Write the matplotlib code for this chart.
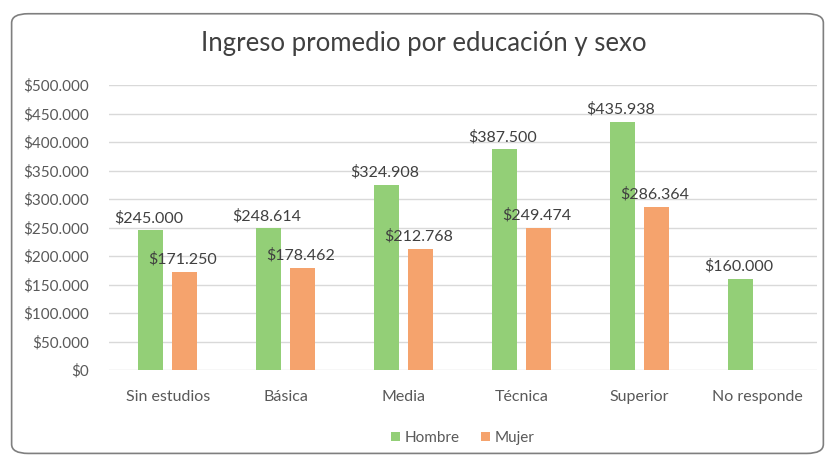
import numpy as np
import matplotlib.pyplot as plt
from matplotlib.patches import FancyBboxPatch
from matplotlib.ticker import FuncFormatter

plt.rcParams['font.family'] = ['Lato', 'DejaVu Sans']

categorias = ['Sin estudios', 'Básica', 'Media', 'Técnica', 'Superior', 'No responde']
hombre = [245000, 248614, 324908, 387500, 435938, 160000]
mujer = [171250, 178462, 212768, 249474, 286364, np.nan]

verde = '#93cf77'
naranja = '#f5a36d'
texto = '#404040'


def pesos(v, pos=None):
    # formato chileno: punto como separador de miles
    return '$' + format(int(v), ',').replace(',', '.')


fig = plt.figure(figsize=(8.3, 4.58), dpi=100)
fig.patch.set_facecolor('white')
borde = FancyBboxPatch((0.014, 0.01), 0.978, 0.96, boxstyle='round,pad=0,rounding_size=0.02',
                       transform=fig.transFigure, facecolor='none', edgecolor='#7f7f7f', linewidth=1.2)
fig.patches.append(borde)

ax = fig.add_axes([0.131, 0.192, 0.853, 0.622])
ax.patch.set_alpha(0)
x = np.arange(len(categorias))
ancho = 0.21
desp = 0.144
ax.bar(x - desp, hombre, ancho, color=verde, label='Hombre', zorder=3)
ax.bar(x + desp, mujer, ancho, color=naranja, label='Mujer', zorder=3)

for xi, v in zip(x, hombre):
    ax.text(xi - desp - 0.02, v + 9000, pesos(v), ha='center', va='bottom', fontsize=11.5, color=texto, zorder=4)
for xi, v in zip(x, mujer):
    if np.isnan(v):
        continue
    ax.text(xi + desp - 0.02, v + 10000, pesos(v), ha='center', va='bottom', fontsize=11.5, color=texto, zorder=4)

ax.set_ylim(0, 500000)
ax.set_xlim(-0.5, len(categorias) - 0.5)
ax.set_yticks(np.arange(0, 500001, 50000))
ax.yaxis.set_major_formatter(FuncFormatter(pesos))
ax.set_xticks(x)
ax.set_xticklabels(categorias)
ax.tick_params(axis='both', length=0, labelsize=11, colors='#595959')
ax.tick_params(axis='y', pad=14)
ax.tick_params(axis='x', pad=14, labelsize=11.5)
ax.grid(axis='y', color='#d9d9d9', linewidth=1, zorder=0)
for s in ax.spines.values():
    s.set_visible(False)

fig.text(0.51, 0.905, 'Ingreso promedio por educación y sexo', ha='center', va='center',
         fontsize=18.5, color='#404040')

ax.legend(loc='upper center', bbox_to_anchor=(0.5, -0.165), ncol=2, frameon=False,
          fontsize=11, handlelength=0.6, handleheight=0.6, handletextpad=0.3, columnspacing=1.4,
          labelcolor='#595959')

fig.savefig('out.png', dpi=100)
